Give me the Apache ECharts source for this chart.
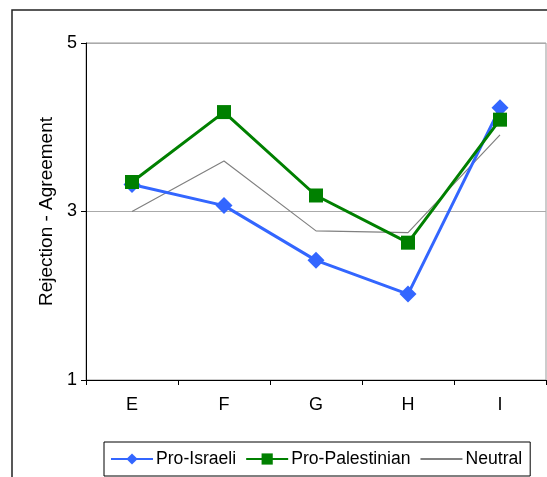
<!DOCTYPE html>
<html><head><meta charset="utf-8">
<script src="https://cdn.jsdelivr.net/npm/echarts@6/dist/echarts.min.js"></script>
<style>html,body{margin:0;padding:0;background:#fff}#c{width:547px;height:477px}</style>
</head><body><div id="c"></div>
<script>
const categories = ['E', 'F', 'G', 'H', 'I'];
const proIsraeli = [3.32, 3.07, 2.42, 2.02, 4.23];
const proPalestinian = [3.35, 4.18, 3.19, 2.63, 4.09];
const neutral = [3.0, 3.60, 2.77, 2.75, 3.91];
const yTicks = [1, 3, 5];

const FONT = 'Liberation Sans, Arial, sans-serif';
const chart = echarts.init(document.getElementById('c'), null, {renderer: 'canvas'});
chart.setOption({
  animation: false,
  backgroundColor: '#fff',
  graphic: [{
    type: 'rect', shape: {x: 12, y: 10, width: 700, height: 700},
    style: {fill: 'none', stroke: '#222', lineWidth: 1.5}, silent: true, z: 100
  }],
  grid: {left: 86, right: 1, top: 43, bottom: 97, show: true, borderColor: '#999', borderWidth: 1},
  legend: {
    left: 104, top: 442,
    padding: [8, 8, 8, 6],
    borderColor: '#000', borderWidth: 1,
    itemWidth: 42, itemHeight: 14, itemGap: 9,
    textStyle: {fontFamily: FONT, fontSize: 17.6, color: '#000', padding: [0, 0, 0, -2]},
    data: ['Pro-Israeli', 'Pro-Palestinian', {name: 'Neutral', itemStyle: {opacity: 0}}]
  },
  xAxis: {
    type: 'category', data: categories, boundaryGap: true,
    axisLine: {lineStyle: {color: '#000', width: 1}},
    axisTick: {show: true, length: 5, lineStyle: {color: '#000'}},
    axisLabel: {fontFamily: FONT, fontSize: 18, color: '#000', margin: 16}
  },
  yAxis: {
    type: 'value', min: yTicks[0], max: yTicks[yTicks.length - 1], interval: 2,
    name: 'Rejection - Agreement', nameLocation: 'middle', nameGap: 27,
    nameTextStyle: {fontFamily: FONT, fontSize: 19, color: '#000'},
    axisLine: {show: true, lineStyle: {color: '#000', width: 1}},
    axisTick: {show: true, length: 5, lineStyle: {color: '#000'}},
    axisLabel: {fontFamily: FONT, fontSize: 18, color: '#000', margin: 9},
    splitLine: {show: true, lineStyle: {color: '#aaa', width: 1}}
  },
  series: [
    {name: 'Pro-Israeli', type: 'line', data: proIsraeli, z: 3,
     symbol: 'diamond', symbolSize: 17, color: '#3366FF',
     lineStyle: {width: 3, color: '#3366FF'}, itemStyle: {color: '#3366FF'}},
    {name: 'Pro-Palestinian', type: 'line', data: proPalestinian, z: 4,
     symbol: 'rect', symbolSize: 14, color: '#008000',
     lineStyle: {width: 3, color: '#008000'}, itemStyle: {color: '#008000'}},
    {name: 'Neutral', type: 'line', data: neutral, z: 2,
     symbol: 'none', color: '#808080',
     lineStyle: {width: 1.2, color: '#808080'}, itemStyle: {color: '#808080'}}
  ]
});
</script></body></html>
